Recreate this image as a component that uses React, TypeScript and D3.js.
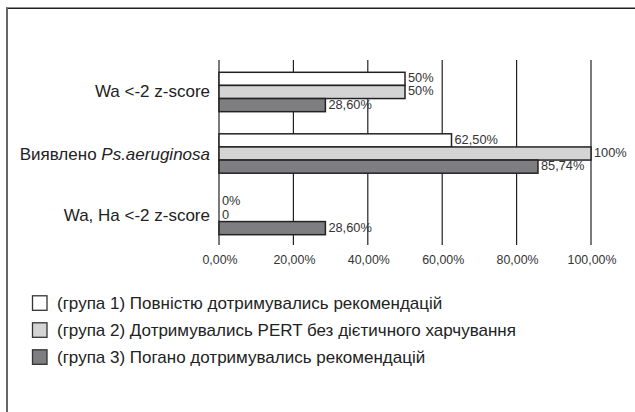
import React from "react";
import * as d3 from "d3";

const categories = ["Wa <-2 z-score", "Виявлено Ps.aeruginosa", "Wa, Ha <-2 z-score"];
const groups = ["g1", "g2", "g3"];
const groupNames = [
  "(група 1) Повністю дотримувались рекомендацій",
  "(група 2) Дотримувались PERT без дієтичного харчування",
  "(група 3) Погано дотримувались рекомендацій",
];
const group1 = [50, 62.5, 0];
const group2 = [50, 100, 0];
const group3 = [28.6, 85.74, 28.6];
const group1Labels = ["50%", "62,50%", "0%"];
const group2Labels = ["50%", "100%", "0"];
const group3Labels = ["28,60%", "85,74%", "28,60%"];
const xTicks = [0, 20, 40, 60, 80, 100];
const xTickLabels = ["0,00%", "20,00%", "40,00%", "60,00%", "80,00%", "100,00%"];

const colors = ["#ffffff", "#d4d4d4", "#7e7e80"];
const font = "'Liberation Sans', Arial, Helvetica, sans-serif";

export default function App() {
  const W = 635;
  const H = 412;
  const x = d3.scaleLinear().domain([0, 100]).range([219, 591]);
  const y = d3.scaleBand<string>().domain(categories).range([60, 247]).paddingInner(0.36).paddingOuter(0.2);
  const yi = d3.scaleBand<string>().domain(groups).range([0, y.bandwidth()]).padding(0);
  const values = [group1, group2, group3];
  const labels = [group1Labels, group2Labels, group3Labels];

  const legendY = d3.scalePoint<string>().domain(groups).range([303, 357]);

  return (
    <svg width={W} height={H} style={{ position: "absolute", left: 0, top: 0, background: "#fff" }} fontFamily={font}>
      <rect x={0} y={0} width={W} height={H} fill="#fff" />
      {/* frame */}
      <line x1={6} x2={W} y1={8.3} y2={8.3} stroke="#1e1e1e" strokeWidth={1.6} />
      <line x1={7} x2={7} y1={7.5} y2={H} stroke="#666" strokeWidth={2} />

      {/* gridlines */}
      {xTicks.map((t) => (
        <line key={"g" + t} x1={x(t)} x2={x(t)} y1={60} y2={245} stroke="#222" strokeWidth={1.2} />
      ))}

      {/* bars */}
      {categories.map((c, ci) => (
        <g key={c} transform={`translate(0,${y(c)})`}>
          {groups.map((g, gi) => {
            const v = values[gi][ci];
            const y0 = yi(g)!;
            const bh = yi.bandwidth();
            return (
              <g key={g}>
                {v > 0 && (
                  <rect
                    x={x(0)}
                    y={y0}
                    width={x(v) - x(0)}
                    height={bh}
                    fill={colors[gi]}
                    stroke="#222"
                    strokeWidth={1.5}
                  />
                )}
                <text
                  x={x(v) + 3}
                  y={y0 + bh / 2 - 1}
                  dominantBaseline="central"
                  fontSize={12.8}
                  fill="#333"
                >
                  {labels[gi][ci]}
                </text>
              </g>
            );
          })}
        </g>
      ))}

      {/* category labels */}
      {categories.map((c, ci) => (
        <text
          key={"l" + c}
          x={210}
          y={y(c)! + y.bandwidth() / 2}
          textAnchor="end"
          dominantBaseline="central"
          fontSize={17}
          fill="#222"
        >
          {ci === 1 ? (
            <>
              <tspan>Виявлено </tspan>
              <tspan fontStyle="italic">Ps.aeruginosa</tspan>
            </>
          ) : (
            c
          )}
        </text>
      ))}

      {/* x tick labels */}
      {xTicks.map((t, i) => (
        <text key={"t" + t} x={x(t) + 1} y={260} textAnchor="middle" dominantBaseline="central" fontSize={12.4} fill="#333">
          {xTickLabels[i]}
        </text>
      ))}

      {/* legend */}
      {groups.map((g, gi) => (
        <g key={"lg" + g} transform={`translate(0,${legendY(g)})`}>
          <rect x={32.5} y={-7.2} width={14.5} height={14.5} fill={colors[gi]} stroke="#333" strokeWidth={1.3} />
          <text x={57} y={0} dominantBaseline="central" fontSize={17} fill="#222">
            {groupNames[gi]}
          </text>
        </g>
      ))}
    </svg>
  );
}
